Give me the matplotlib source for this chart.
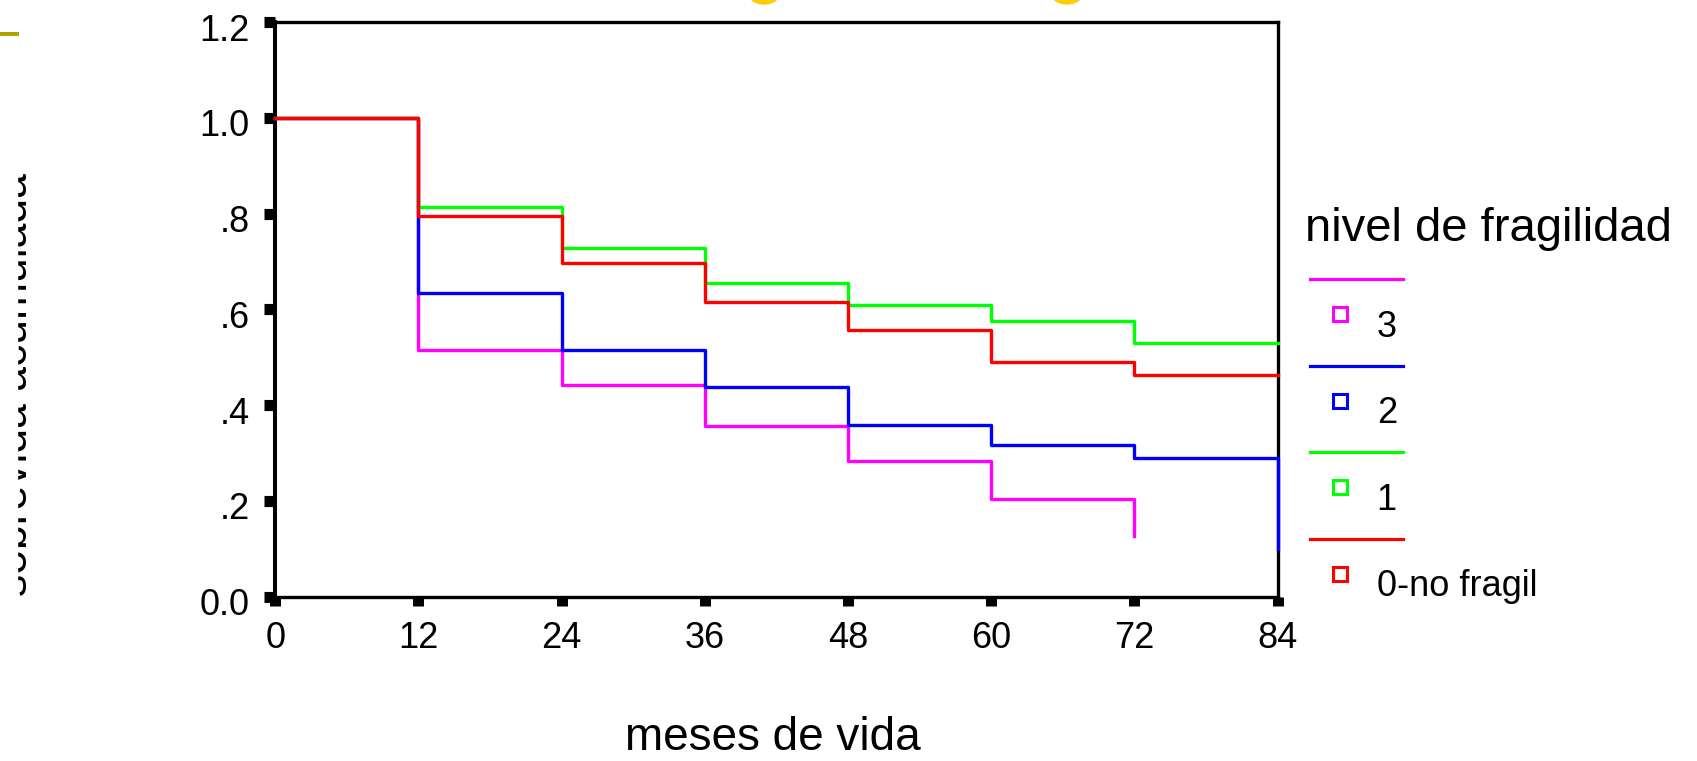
import matplotlib
matplotlib.use("Agg")
import matplotlib.pyplot as plt
from matplotlib.lines import Line2D
from matplotlib.patches import Ellipse, Rectangle
from matplotlib.transforms import IdentityTransform, ScaledTranslation

plt.rcParams['font.family'] = ['Liberation Sans', 'DejaVu Sans']

# survival curves (months of life vs cumulative survival)
meses = [0, 12, 24, 36, 48, 60, 72, 84]
grupo_labels = ['3', '2', '1', '0-no fragil']
grupo_colors = ['#FF00FF', '#0000FF', '#00FF00', '#FF0000']
surv_3 = [1.0, 0.516, 0.443, 0.356, 0.284, 0.204, 0.126]
surv_2 = [1.0, 0.635, 0.516, 0.437, 0.358, 0.317, 0.290, 0.099]
surv_1 = [1.0, 0.814, 0.729, 0.655, 0.610, 0.575, 0.530, 0.530]
surv_0 = [1.0, 0.795, 0.696, 0.616, 0.556, 0.490, 0.463, 0.463]
curvas = [surv_3, surv_2, surv_1, surv_0]

yticks = [0.0, 0.2, 0.4, 0.6, 0.8, 1.0, 1.2]
ytick_labels = ['0.0', '.2', '.4', '.6', '.8', '1.0', '1.2']

W, H = 1697, 761
fig = plt.figure(figsize=(W / 100, H / 100), dpi=100)
ax = fig.add_axes([275.3 / W, 1 - 596.5 / H, (1277.6 - 275.3) / W, (596.5 - 22.3) / H])

for vals, col in zip(curvas, grupo_colors):
    ax.step(meses[:len(vals)], vals, where='post', color=col, lw=2.4,
            zorder=3, clip_on=False)

ax.set_xlim(0, 84)
ax.set_ylim(0, 1.2)
ax.set_xticks(meses)
ax.set_yticks(yticks)
ax.set_yticklabels(ytick_labels)
for s in ax.spines.values():
    s.set_linewidth(2.4)
ax.spines['left'].set_linewidth(2.9)
ax.tick_params(direction='out', color='black', labelsize=26)
ax.tick_params(axis='x', length=6.7, width=7.9, pad=11)
ax.tick_params(axis='y', length=8, width=8, pad=10.5)
# y labels sit a little below their ticks in the original
for lab in ax.get_yticklabels():
    lab.set_transform(lab.get_transform() +
                      ScaledTranslation(0, -5 / 100, fig.dpi_scale_trans))

# axis labels
ax.set_xlabel('meses de vida', fontsize=33)
ax.xaxis.label.set_va('bottom')
ax.xaxis.set_label_coords((773 - 275.3) / 1002.3, -(760 - 596.5) / 574.2)

ax.set_ylabel('sobrevida acumulada', fontsize=32)
ax.yaxis.label.set_va('baseline')
ax.yaxis.set_label_coords((27 - 275.3) / 1002.3, (596.5 - 385) / 574.2)
# the slide crops the chart a little to the left of the y label
fig.add_artist(Rectangle((0, 1 - 640 / H), 17 / W, 500 / H, color='white',
                         transform=fig.transFigure, zorder=10))

# legend, SPSS style
fig.text(1305 / W, 1 - 240.7 / H, 'nivel de fragilidad', fontsize=34,
         ha='left', va='baseline')
step = 86.6
for i, (lab, col) in enumerate(zip(grupo_labels, grupo_colors)):
    ly = 279 + i * step
    fig.add_artist(Line2D([1310 / W, 1403 / W], [1 - ly / H, 1 - ly / H],
                          color=col, lw=2.3, transform=fig.transFigure))
    sy = 314 + i * step
    fig.add_artist(Line2D([1339.5 / W], [1 - sy / H], marker='s',
                          markersize=9.5, mfc='none', mec=col, mew=2.2,
                          transform=fig.transFigure))
    fig.text(1376.7 / W, 1 - (336.7 + i * step) / H, lab, fontsize=26,
             ha='left', va='baseline')

# bits of the slide around the chart
fig.add_artist(Line2D([0, 17 / W], [1 - 34 / H, 1 - 34 / H], color='#ADA400',
                      lw=2.9, transform=fig.transFigure))
for cx in [764, 1067]:
    fig.add_artist(Ellipse((cx, H + 8), 32, 24, color='#FFCC00',
                           transform=IdentityTransform()))

fig.savefig('out.png', dpi=100)
